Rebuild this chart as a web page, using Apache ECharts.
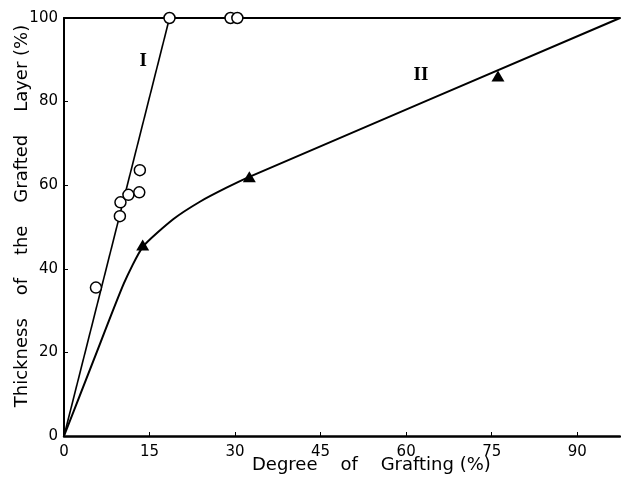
<!DOCTYPE html>
<html>
<head>
<meta charset="utf-8">
<script src="https://cdn.jsdelivr.net/npm/echarts@6/dist/echarts.min.js"></script>
<style>
  html, body { margin: 0; padding: 0; background: #fff; }
  #chart { width: 621px; height: 497px; }
</style>
</head>
<body>
<div id="chart"></div>
<script>
// measured points, series I (open circles)
const circlesI = [
    [5.6, 35.5], [9.8, 52.6], [9.9, 55.9], [11.3, 57.7], [13.2, 58.3],
    [13.3, 63.6], [18.5, 100], [29.2, 100], [30.4, 100]
];
// measured points, series II (filled triangles)
const trianglesII = [[13.8, 45.7], [32.5, 62], [76.1, 86.1]];
// drawn lines
const lineI = [[0, 0], [18.5, 100]];
const curveII = [
    [0, 0], [5.3, 18.5], [10.5, 36.5], [13.8, 45.2], [19.2, 51.9],
    [23.9, 56.1], [28.5, 59.4], [32.5, 62], [97.5, 100]
];
// tick labels
const xTicks = [0, 15, 30, 45, 60, 75, 90];
const yTicks = [0, 20, 40, 60, 80, 100];

const FONT = "DejaVu Sans";
const chartObj = echarts.init(document.getElementById("chart"));

let option = {
    backgroundColor: "#fff",
    animation: false,
    grid: { left: 64, right: 1, top: 18, bottom: 61, containLabel: false },
    xAxis: [
        {
            type: "value",
            min: 0,
            max: 97.5,
            interval: 15,
            splitLine: { show: false },
            axisLine: { show: true, onZero: false, lineStyle: { color: "#000", width: 2.5 } },
            axisTick: { show: true, inside: true, length: 4, lineStyle: { color: "#000", width: 1 } },
            axisLabel: {
                color: "#000", fontFamily: FONT, fontSize: 15, margin: 9,
                showMaxLabel: false,
                formatter: v => (xTicks.includes(v) ? String(v) : "")
            }
        },
        {
            // top frame line
            type: "value",
            position: "top",
            min: 0,
            max: 97.5,
            splitLine: { show: false },
            axisLine: { show: true, onZero: false, lineStyle: { color: "#000", width: 2 } },
            axisTick: { show: false },
            axisLabel: { show: false }
        }
    ],
    yAxis: {
        type: "value",
        min: 0,
        max: 100,
        interval: 20,
        splitLine: { show: false },
        axisLine: { show: true, onZero: false, lineStyle: { color: "#000", width: 2 } },
        axisTick: { show: true, inside: true, length: 4, lineStyle: { color: "#000", width: 1 } },
        axisLabel: {
            color: "#000", fontFamily: FONT, fontSize: 15, margin: 6,
            formatter: v => (yTicks.includes(v) ? String(v) : "")
        }
    },
    graphic: [
        {
            type: "text", left: 252, top: 456,
            style: { text: "Degree    of    Grafting (%)", font: "18px '" + FONT + "'", fill: "#000" }
        },
        {
            type: "text", x: 22, y: 216, rotation: Math.PI / 2,
            style: {
                text: "Thickness    of    the    Grafted    Layer (%)",
                font: "18px '" + FONT + "'", fill: "#000",
                textAlign: "center", textVerticalAlign: "middle"
            }
        }
    ],
    series: [
        {
            name: "line I",
            type: "line",
            data: lineI,
            showSymbol: false,
            lineStyle: { color: "#000", width: 1.6 },
            markPoint: {
                symbol: "circle", symbolSize: 0,
                label: {
                    show: true, formatter: "I", color: "#000",
                    fontFamily: "Liberation Serif", fontWeight: "bold", fontSize: 19
                },
                data: [{ coord: [13.9, 89.8] }]
            }
        },
        {
            name: "curve II",
            type: "line",
            data: curveII,
            showSymbol: false,
            smooth: 0.2,
            lineStyle: { color: "#000", width: 2 },
            markPoint: {
                symbol: "circle", symbolSize: 0,
                label: {
                    show: true, formatter: "II", color: "#000",
                    fontFamily: "Liberation Serif", fontWeight: "bold", fontSize: 19
                },
                data: [{ coord: [62.6, 86.4] }]
            }
        },
        {
            name: "I",
            type: "scatter",
            data: circlesI,
            symbol: "circle",
            symbolSize: 11,
            itemStyle: { color: "#fff", borderColor: "#000", borderWidth: 1.5, opacity: 1 },
            z: 5
        },
        {
            name: "II",
            type: "scatter",
            data: trianglesII,
            symbol: "triangle",
            symbolSize: [13, 11],
            itemStyle: { color: "#000", opacity: 1 },
            z: 5
        }
    ]
};

chartObj.setOption(option);
window.addEventListener("resize", function () {
    chartObj.resize();
});
</script>
</body>
</html>
